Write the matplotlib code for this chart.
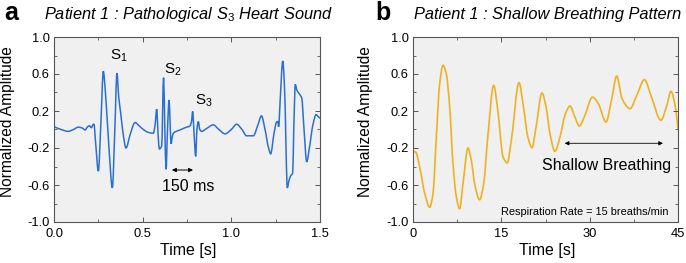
import matplotlib
matplotlib.use("Agg")
import matplotlib.pyplot as plt
from matplotlib.path import Path
from matplotlib.patches import PathPatch
from matplotlib.ticker import MultipleLocator, FormatStrFormatter

plt.rcParams['font.family'] = ['Liberation Sans', 'DejaVu Sans']
plt.rcParams['mathtext.fontset'] = 'custom'
plt.rcParams['mathtext.rm'] = 'Liberation Sans'
plt.rcParams['mathtext.it'] = 'Liberation Sans:italic'

# Panel a: heart sound
t_heart = [0.0, 0.04, 0.08, 0.11, 0.137, 0.16, 0.175, 0.19, 0.2, 0.21, 0.22, 0.225, 0.235, 0.25,
           0.265, 0.278, 0.29, 0.31, 0.329, 0.343, 0.355, 0.365, 0.376, 0.39, 0.406, 0.43, 0.457,
           0.48, 0.504, 0.53, 0.56, 0.57, 0.579, 0.587, 0.594, 0.607, 0.618, 0.625, 0.632, 0.64,
           0.649, 0.655, 0.66, 0.667, 0.673, 0.69, 0.71, 0.74, 0.767, 0.775, 0.782, 0.79, 0.799,
           0.806, 0.814, 0.822, 0.833, 0.86, 0.898, 0.93, 0.964, 1.0, 1.03, 1.06, 1.086, 1.124,
           1.15, 1.17, 1.19, 1.21, 1.222, 1.24, 1.255, 1.261, 1.267, 1.275, 1.29, 1.3, 1.316,
           1.322, 1.327, 1.335, 1.346, 1.352, 1.361, 1.367, 1.374, 1.385, 1.397, 1.41, 1.425,
           1.44, 1.46, 1.478, 1.49, 1.5]
amp_heart = [0.03, 0.0, -0.02, 0.0, 0.025, 0.015, -0.005, 0.03, 0.04, 0.02, 0.05, 0.06, -0.15, -0.45,
             0.1, 0.63, 0.4, -0.2, -0.63, 0.0, 0.61, 0.35, 0.18, -0.05, -0.2, -0.05, 0.075,
             0.04, 0.0, -0.03, -0.04, 0.05, 0.22, -0.05, -0.21, -0.18, 0.56, 0.0, -0.43, 0.0,
             0.32, 0.05, -0.155, -0.08, -0.04, -0.02, -0.005, 0.02, 0.04, 0.08, 0.195, -0.05, -0.29,
             0.0, 0.086, 0.0, -0.02, 0.01, 0.05, 0.0, -0.047, 0.0, 0.057, 0.0, -0.068, -0.068,
             0.05, 0.147, 0.0, -0.2, -0.263, -0.05, 0.08, 0.086, 0.03, 0.3, 0.74, 0.45, -0.633,
             -0.58, -0.54, -0.5, -0.47, 0.0, 0.49, 0.44, 0.41, 0.38, 0.34, 0.0, -0.35,
             -0.2, 0.05, 0.16, 0.14, 0.12]

# Panel b: breathing
t_breath = [0.0, 0.45, 1.13, 1.98, 2.83, 3.4, 3.96, 4.53, 5.09, 5.66, 6.23, 6.79, 7.36, 7.92, 8.49,
            9.34, 9.9, 10.47, 11.3, 12.0, 12.7, 13.7, 14.4, 15.3, 16.0, 16.7, 18.0, 18.8, 19.5,
            20.2, 20.9, 21.9, 22.6, 23.26, 24.1, 24.96, 25.8, 26.66, 27.5, 28.24, 29.2, 30.45,
            31.47, 32.77, 33.7, 34.6, 35.5, 36.85, 38.0, 39.3, 40.5, 42.1, 43.1, 43.8, 44.6, 45.0]
amp_breath = [-0.236, -0.243, -0.405, -0.69, -0.84, -0.69, -0.08, 0.495, 0.694, 0.60, 0.243, -0.37,
              -0.73, -0.856, -0.586, -0.2, -0.333, -0.586, -0.76, -0.586, -0.08, 0.477, 0.207,
              -0.297, -0.362, -0.117, 0.506, 0.225, -0.08, -0.196, 0.027, 0.395, 0.243, -0.045,
              -0.236, -0.08, 0.153, 0.254, 0.135, 0.038, 0.153, 0.35, 0.28, 0.081, 0.315, 0.578,
              0.333, 0.225, 0.37, 0.539, 0.35, 0.1, 0.26, 0.413, 0.225, 0.0]

blue = '#2b6fd2'
orange = '#f2b01e'
bg = '#f0f0f0'
frame = '#555555'


def smooth_path(xs, ys):
    """Monotone cubic (PCHIP-style) Bezier path through the given points."""
    n = len(xs)
    h = [xs[i + 1] - xs[i] for i in range(n - 1)]
    d = [(ys[i + 1] - ys[i]) / h[i] for i in range(n - 1)]
    m = [0.0] * n
    m[0] = d[0]
    m[-1] = d[-1]
    for k in range(1, n - 1):
        if d[k - 1] * d[k] <= 0:
            m[k] = 0.0
        else:
            w1 = 2 * h[k] + h[k - 1]
            w2 = h[k] + 2 * h[k - 1]
            m[k] = (w1 + w2) / (w1 / d[k - 1] + w2 / d[k])
    verts = [(xs[0], ys[0])]
    codes = [Path.MOVETO]
    for k in range(n - 1):
        verts += [(xs[k] + h[k] / 3, ys[k] + m[k] * h[k] / 3),
                  (xs[k + 1] - h[k] / 3, ys[k + 1] - m[k + 1] * h[k] / 3),
                  (xs[k + 1], ys[k + 1])]
        codes += [Path.CURVE4] * 3
    return Path(verts, codes)


fig = plt.figure(figsize=(6.86, 2.63), dpi=100)
axa = fig.add_axes([54/686, 41/263, 266/686, 185/263])
axb = fig.add_axes([413/686, 41/263, 265/686, 185/263])

for ax in (axa, axb):
    ax.set_facecolor(bg)
    ax.set_ylim(-1.0, 1.0)
    ax.set_yticks([-1.0, -0.6, -0.2, 0.2, 0.6, 1.0])
    ax.yaxis.set_minor_locator(MultipleLocator(0.2))
    ax.yaxis.set_major_formatter(FormatStrFormatter('%.1f'))
    ax.tick_params(which='both', direction='in', top=True, right=True, labelsize=9.3,
                   color=frame)
    ax.tick_params(axis='x', which='both', pad=4)
    ax.tick_params(axis='y', which='both', pad=3)
    ax.tick_params(which='major', length=3.5, width=0.7)
    ax.tick_params(which='minor', length=2, width=0.6)
    for s in ax.spines.values():
        s.set_color(frame)
        s.set_linewidth(0.8)
    ax.set_ylabel('Normalized Amplitude', fontsize=11.2)
    ax.set_xlabel('Time [s]', fontsize=11.5)
    ax.xaxis.set_label_coords(0.506, -0.112)

axa.yaxis.set_label_coords(-0.145, 0.543)
axb.yaxis.set_label_coords(-0.151, 0.543)

# Panel a
axa.add_patch(PathPatch(smooth_path(t_heart, amp_heart), facecolor='none', edgecolor=blue,
                        lw=1.1))
axa.set_xlim(0, 1.5)
axa.xaxis.set_major_locator(MultipleLocator(0.5))
axa.xaxis.set_minor_locator(MultipleLocator(0.25))
axa.xaxis.set_major_formatter(FormatStrFormatter('%.1f'))
axa.text(0.367, 0.80, r'S$_\mathregular{1}$', fontsize=11, ha='center', va='center')
axa.text(0.668, 0.65, r'S$_\mathregular{2}$', fontsize=11, ha='center', va='center')
axa.text(0.846, 0.31, r'S$_\mathregular{3}$', fontsize=11, ha='center', va='center')
axa.annotate('', xy=(0.665, -0.438), xytext=(0.784, -0.438),
             arrowprops=dict(arrowstyle='<|-|>', color='black', lw=0.7, mutation_scale=6,
                             shrinkA=0, shrinkB=0))
axa.text(0.756, -0.62, '150 ms', fontsize=11.5, ha='center', va='center')

# Panel b
axb.add_patch(PathPatch(smooth_path(t_breath, amp_breath), facecolor='none', edgecolor=orange,
                        lw=1.2))
axb.set_xlim(0, 45)
axb.xaxis.set_major_locator(MultipleLocator(15))
axb.xaxis.set_minor_locator(MultipleLocator(7.5))
axb.annotate('', xy=(25.76, -0.149), xytext=(42.45, -0.149),
             arrowprops=dict(arrowstyle='<|-|>', color='black', lw=0.6, mutation_scale=6,
                             shrinkA=0, shrinkB=0))
axb.text(32.8, -0.384, 'Shallow Breathing', fontsize=11.5, ha='center', va='center')
axb.text(29.15, -0.895, 'Respiration Rate = 15 breaths/min', fontsize=7.9, ha='center',
         va='center')

# Titles and panel letters
fig.text(4/686, 1 - 13/263, 'a', fontsize=18, fontweight='bold', ha='left', va='center')
fig.text(188/686, 1 - 15/263, r'Patient 1 : Pathological S$_\mathit{3}$ Heart Sound',
         fontsize=11.8, fontstyle='italic', ha='center', va='center')
fig.text(375/686, 1 - 13/263, 'b', fontsize=18, fontweight='bold', ha='left', va='center')
fig.text(548/686, 1 - 15/263, 'Patient 1 : Shallow Breathing Pattern',
         fontsize=11.8, fontstyle='italic', ha='center', va='center')

fig.savefig('out.png', dpi=100)
